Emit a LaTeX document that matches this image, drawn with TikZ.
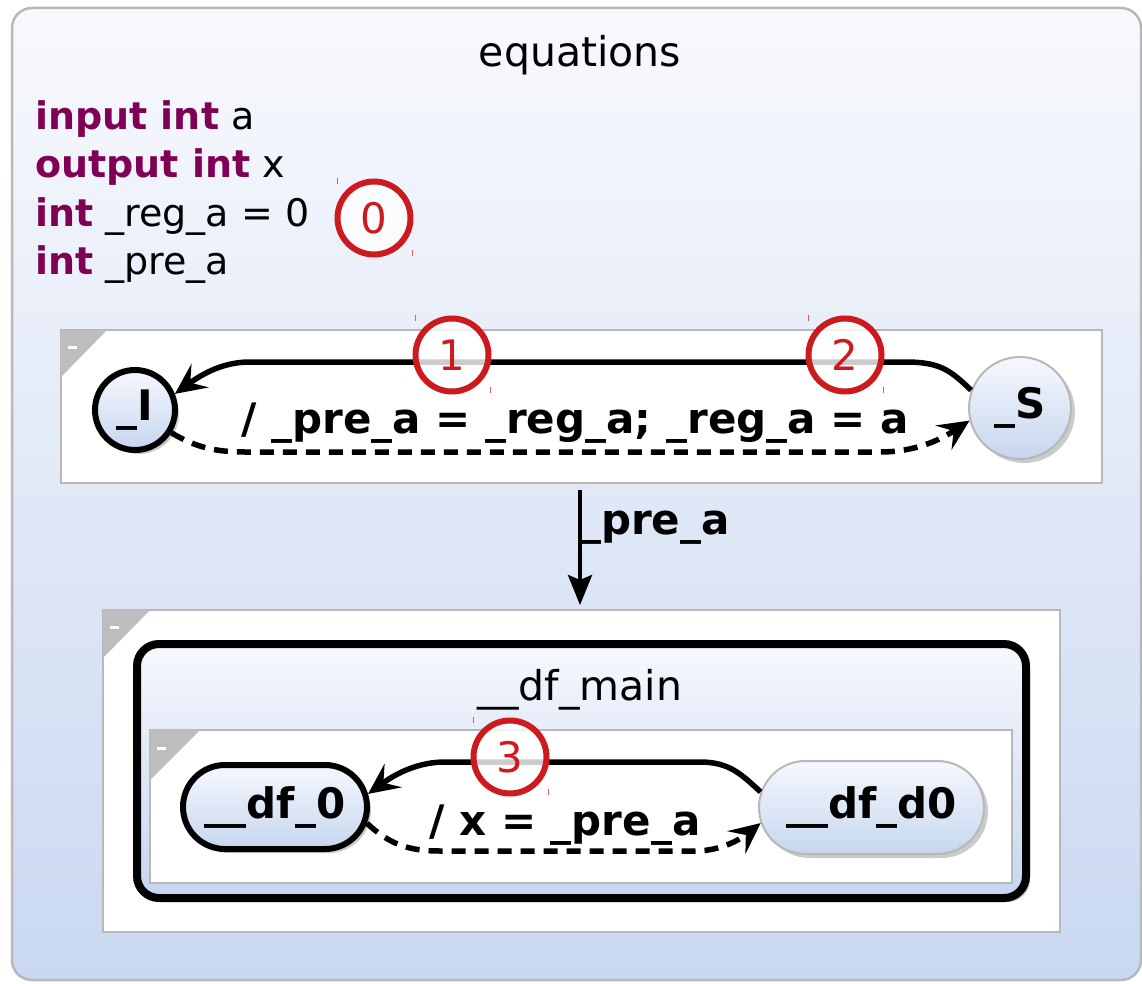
\documentclass[tikz,border=0pt]{standalone}
\usepackage{fontspec}
\setmainfont{DejaVu Sans}
\usetikzlibrary{shapes.misc,shadows,arrows.meta}
\definecolor{kw}{HTML}{7F0055}
\definecolor{markred}{HTML}{CC1A1F}
\definecolor{bordergray}{HTML}{B8B8B8}
\definecolor{cornergray}{HTML}{BDBDBD}
\definecolor{bgtop}{HTML}{F8F9FD}
\definecolor{bgbot}{HTML}{C9D8F1}
\definecolor{ntop}{HTML}{F6F8FD}
\definecolor{nbot}{HTML}{C6D6EF}
\begin{document}
\begin{tikzpicture}[x=1pt,y=-1pt,
  code/.style={font=\fontsize{38}{46}\selectfont},
  txt/.style={font=\fontsize{41}{49}\selectfont},
  txtb/.style={font=\fontsize{42}{50}\selectfont\bfseries},
  region/.style={draw=bordergray,line width=2.5pt,fill=white,inner sep=0pt,outer sep=0pt},
  corner/.style={fill=cornergray},
  shad/.style={drop shadow={shadow xshift=4pt,shadow yshift=-4pt,fill=black!45,opacity=.45}},
  stthick/.style={draw=black,line width=6pt,top color=ntop,bottom color=nbot,inner sep=0pt,txtb,shad},
  stthin/.style={draw=bordergray,line width=2pt,top color=ntop,bottom color=nbot,inner sep=0pt,txtb,shad},
  markc/.style={circle,draw=markred,line width=6pt,fill=white,fill opacity=.8,text opacity=1,text=markred,minimum size=73pt,inner sep=0pt,font=\fontsize{42}{50}\selectfont},
  tick/.style={draw=markred!70,line width=1pt},
  trans/.style={line width=5.5pt,-{Stealth[length=31pt 0 0,width=29pt 0,inset=12pt 0]}},
  dashtrans/.style={trans,dash pattern=on 14pt off 9pt}
]
\useasboundingbox (0,0) rectangle (1142,984);
% outer state
\draw[draw=bordergray,line width=2.5pt,rounded corners=20pt,top color=bgtop,bottom color=bgbot] (12,8) rectangle (1141,980);
\node[txt,anchor=base] (title) at (580,67) {equations};
\node[code,anchor=base west,inner sep=0pt] (l1) at (35,130) {\textcolor{kw}{\bfseries input int} a};
\node[code,anchor=base west,inner sep=0pt] (l2) at (35,178) {\textcolor{kw}{\bfseries output int} x};
\node[code,anchor=base west,inner sep=0pt] (l3) at (35,226) {\textcolor{kw}{\bfseries int} \_reg\_a = 0};
\node[code,anchor=base west,inner sep=0pt] (l4) at (35,274) {\textcolor{kw}{\bfseries int} \_pre\_a};

% region 1
\node[region,minimum width=1041pt,minimum height=153pt] (R1) at (581.5,406.5) {};
\fill[corner] (R1.north west) -- ++(46,0) -- ++(-46,47) -- cycle;
\fill[white] (68,345.5) rectangle (77,349);

\node[stthick,circle,minimum size=80pt] (I) at (135,410) {\_I};
\node[stthin,circle,minimum size=102pt] (S) at (1020,408) {\_S};

\draw[trans] (S.160) .. controls (950,370) and (940,362) .. (905,362) -- (250,362) .. controls (225,362) and (205,372) .. (I.22);
\draw[dashtrans] (I.-32) .. controls (195,447) and (215,452) .. (245,452) -- (880,452) .. controls (915,452) and (940,440) .. (S.-166);
\node[txtb,anchor=base] (lab1) at (575,433) {/ \_pre\_a = \_reg\_a; \_reg\_a = a};

% region 2
\node[region,minimum width=957pt,minimum height=322pt] (R2) at (581.5,771) {};
\draw[line width=4pt,-{Stealth[length=30pt 0 0,width=24pt 0,inset=5pt 0]}] ([xshift=-1.5pt,yshift=-7pt]R1.south) -- ([xshift=-1.5pt,yshift=5pt]R2.north);
\node[txtb,anchor=base west,inner sep=0pt] (lab2) at (580,534) {\_pre\_a};

\fill[corner] (R2.north west) -- ++(47,0) -- ++(-47,48) -- cycle;
\fill[white] (110,625.5) rectangle (119,629);

% superstate __df_main
\node[draw=black,line width=8pt,rounded corners=22pt,top color=ntop,bottom color=nbot,minimum width=889pt,minimum height=254pt,inner sep=0pt,shad] (main) at (581.5,771) {};
\node[txt,anchor=base] (maint) at (580,700) {\_\_df\_main};
\node[region,minimum width=862pt,minimum height=153pt] (R3) at (581,806.5) {};
\fill[corner] (R3.north west) -- ++(50,0) -- ++(-50,50) -- cycle;
\fill[white] (157,746.5) rectangle (166,750);

\node[stthick,rounded rectangle,minimum width=184pt,minimum height=84pt] (F0) at (275,807) {\_\_df\_0};
\node[stthin,rounded rectangle,minimum width=225pt,minimum height=93pt] (D0) at (871.5,807.5) {\_\_df\_d0};

\draw[trans] (D0.172) .. controls (742,775) and (730,762) .. (700,762) -- (445,762) .. controls (420,762) and (398,772) .. (F0.8);
\draw[dashtrans] (F0.-10) .. controls (390,845) and (410,851) .. (440,851) -- (695,851) .. controls (722,851) and (742,838) .. (D0.-172);
\node[txtb,anchor=base] (lab3) at (565,835) {/ x = \_pre\_a};

% markers
\node[markc] (m0) at (374,218) {0};
\node[markc] (m1) at (452,355) {1};
\node[markc] (m2) at (845,355) {2};
\node[markc] (m3) at (510,757) {3};
\foreach \c in {m0,m1,m2,m3}{
  \draw[tick] ([shift={(-37,-40)}]\c.center) -- ++(0,6);
  \draw[tick] ([shift={(38,32)}]\c.center) -- ++(0,6);
}
\end{tikzpicture}
\end{document}
